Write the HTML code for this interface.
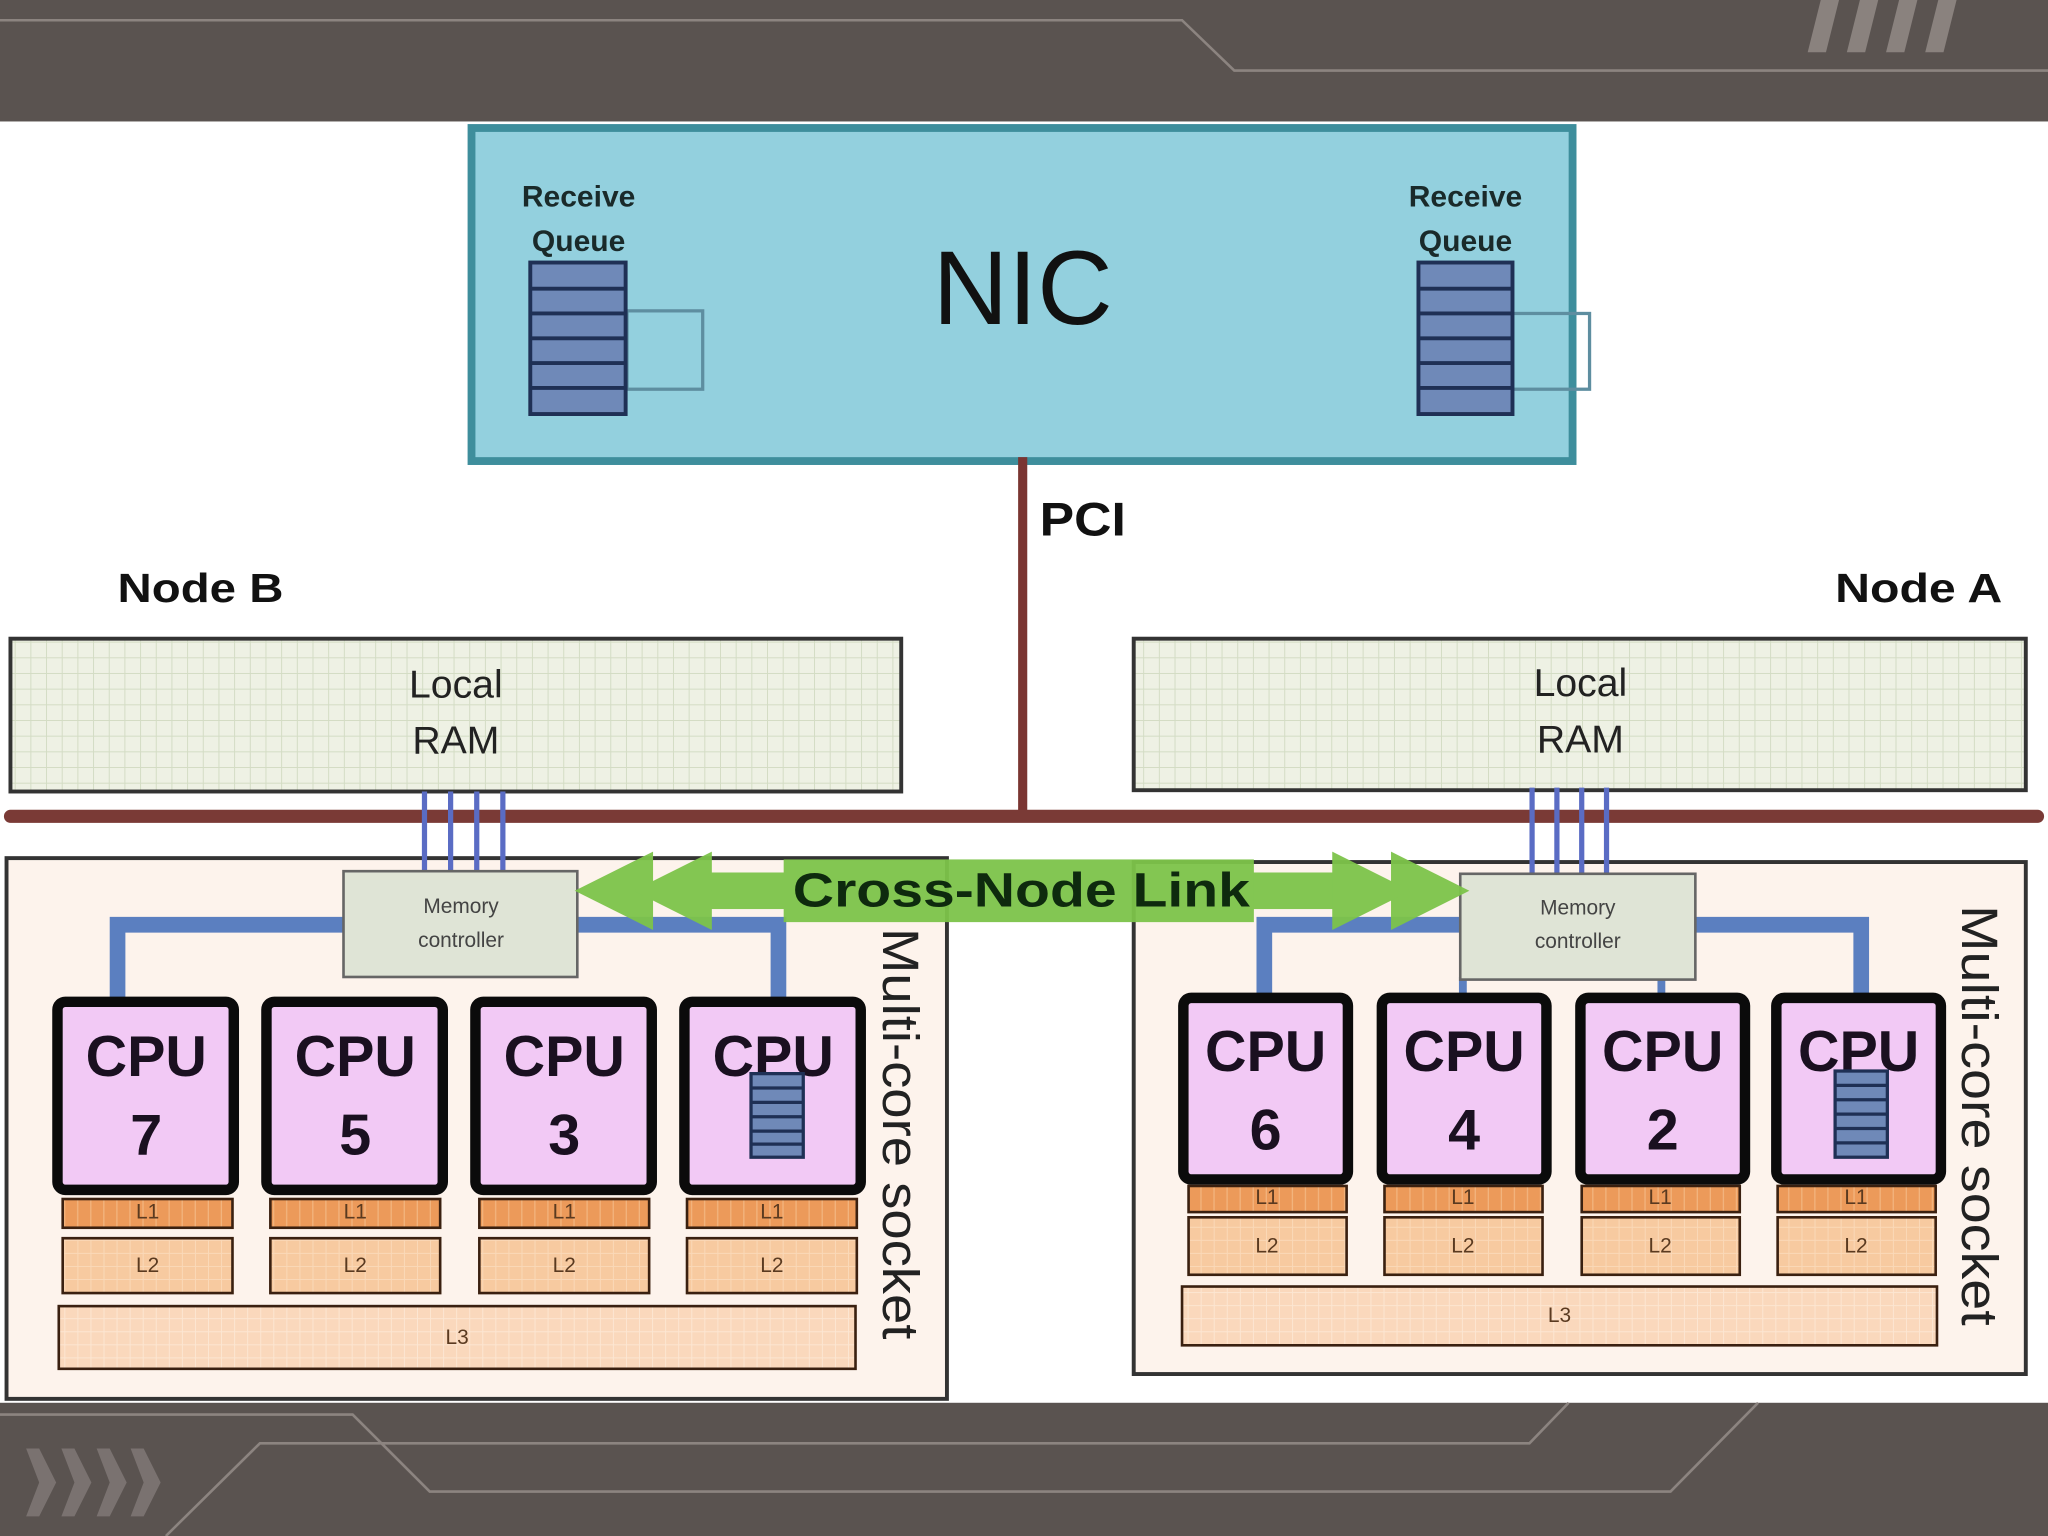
<!DOCTYPE html>
<html><head><meta charset="utf-8"><style>
html,body{margin:0;padding:0;background:#fff;}
svg{display:block;}
text{font-family:"Liberation Sans",sans-serif;}
</style></head><body>
<svg width="2048" height="1536" viewBox="0 0 1568 1176" xmlns="http://www.w3.org/2000/svg">
<defs>
<pattern id="grid" width="12" height="12" patternUnits="userSpaceOnUse"><rect width="12" height="12" fill="#eef1e4"/><path d="M12 0V12M0 12H12" stroke="#d3dcc4" stroke-width="1.5"/></pattern>
<pattern id="g1" width="10" height="10" patternUnits="userSpaceOnUse"><rect width="10" height="10" fill="#ec9a5a"/><path d="M10 0V10" stroke="#f2b47e" stroke-width="2"/></pattern>
<pattern id="g2" width="10" height="10" patternUnits="userSpaceOnUse"><rect width="10" height="10" fill="#f7caa0"/><path d="M10 0V10M0 10H10" stroke="#fad9b8" stroke-width="1.5"/></pattern>
<pattern id="g3" width="10" height="10" patternUnits="userSpaceOnUse"><rect width="10" height="10" fill="#fad8bc"/><path d="M10 0V10M0 10H10" stroke="#fce6d2" stroke-width="1.5"/></pattern>
</defs>
<rect width="1568" height="1176" fill="#fff"/>
<rect x="0" y="0" width="1568" height="93" fill="#5a5350"/>
<path d="M0 15.5H905L945 54H1568" fill="none" stroke="#8c8480" stroke-width="2"/>
<g fill="#8a827e"><path d="M1394 0h14l-10 40h-14z"/><path d="M1424 0h14l-10 40h-14z"/><path d="M1454 0h14l-10 40h-14z"/><path d="M1484 0h14l-10 40h-14z"/></g>
<rect x="0" y="1074" width="1568" height="102" fill="#5a5350"/>
<path d="M0 1083H270L329 1142H1279L1346 1074" fill="none" stroke="#8c8480" stroke-width="2"/>
<path d="M127 1176L199 1105H1171L1201 1074" fill="none" stroke="#8c8480" stroke-width="2"/>
<g fill="#7a7270"><path d="M20 1109h10l13 26l-13 26h-10l10-26z"/><path d="M47 1109h10l13 26l-13 26h-10l10-26z"/><path d="M74 1109h10l13 26l-13 26h-10l10-26z"/><path d="M100 1109h10l13 26l-13 26h-10l10-26z"/></g>

<rect x="361" y="98" width="843" height="255" fill="#93d0de" stroke="#3e8e9c" stroke-width="6"/>
<text x="783" y="248" font-size="80" text-anchor="middle" fill="#111">NIC</text>
<g font-size="23" font-weight="bold" fill="#1a2a2a" text-anchor="middle">
<text x="443" y="158">Receive</text><text x="443" y="192">Queue</text>
<text x="1122" y="158">Receive</text><text x="1122" y="192">Queue</text></g>
<rect x="480" y="238" width="58" height="60" fill="none" stroke="#5e8ea0" stroke-width="2.5"/>
<rect x="1158" y="240" width="59" height="58" fill="none" stroke="#5e8ea0" stroke-width="2.5"/>
<g stroke="#1f3055" stroke-width="3" fill="#6f89b8">
<rect x="406" y="201" width="73" height="116"/>
<path d="M406 221H479M406 240H479M406 259H479M406 278H479M406 297H479"/>
<rect x="1086" y="201" width="72" height="116"/>
<path d="M1086 221H1158M1086 240H1158M1086 259H1158M1086 278H1158M1086 297H1158"/>
</g>
<line x1="783" y1="350" x2="783" y2="625" stroke="#7a3532" stroke-width="7"/>
<text x="796" y="410" font-size="36" font-weight="bold" fill="#111" textLength="66" lengthAdjust="spacingAndGlyphs">PCI</text>
<text x="90" y="461" font-size="31" font-weight="bold" fill="#111" textLength="127" lengthAdjust="spacingAndGlyphs">Node B</text>
<text x="1405" y="461" font-size="31" font-weight="bold" fill="#111" textLength="128" lengthAdjust="spacingAndGlyphs">Node A</text>
<rect x="8" y="489" width="682" height="117" fill="url(#grid)" stroke="#333" stroke-width="3"/>
<rect x="868" y="489" width="683" height="116" fill="url(#grid)" stroke="#333" stroke-width="3"/>
<g font-size="30" fill="#222" text-anchor="middle">
<text x="349" y="534">Local</text><text x="349" y="577">RAM</text>
<text x="1210" y="533">Local</text><text x="1210" y="576">RAM</text></g>
<line x1="8" y1="625" x2="1560" y2="625" stroke="#7a3a36" stroke-width="10" stroke-linecap="round"/>
<rect x="5" y="657" width="720" height="414" fill="#fdf3ec" stroke="#333" stroke-width="3"/>
<rect x="868" y="660" width="683" height="392" fill="#fdf3ec" stroke="#333" stroke-width="3"/>
<g stroke="#5a6cc4" stroke-width="4"><path d="M325 606V667M345 606V667M365 606V667M385 606V667"/><path d="M1173 603V669M1192 603V669M1211 603V669M1230 603V669"/></g>
<path d="M90 768V708H596V768" fill="none" stroke="#5b7fc0" stroke-width="12"/>
<path d="M968 768V708H1425V768" fill="none" stroke="#5b7fc0" stroke-width="12"/>
<path d="M1120 748V768M1272 748V768" stroke="#5b7fc0" stroke-width="6"/>
<rect x="263" y="667" width="179" height="81" fill="#dfe4d6" stroke="#666" stroke-width="2"/>
<rect x="1118" y="669" width="180" height="81" fill="#dfe4d6" stroke="#666" stroke-width="2"/>
<g font-size="16" fill="#444" text-anchor="middle">
<text x="353" y="699">Memory</text><text x="353" y="725">controller</text>
<text x="1208" y="700">Memory</text><text x="1208" y="726">controller</text></g>
<g fill="#7dc44a" opacity="0.95">
<rect x="530" y="668" width="520" height="28"/>
<rect x="600" y="658" width="360" height="48"/>
<path d="M440 682L500 652V712Z"/><path d="M485 682L545 652V712Z"/>
<path d="M1125 682L1065 652V712Z"/><path d="M1080 682L1020 652V712Z"/>
</g>
<text x="607" y="694" font-size="37" font-weight="bold" fill="#0e2a0e" textLength="350" lengthAdjust="spacingAndGlyphs">Cross-Node Link</text>
<g fill="#f2c9f5" stroke="#0b0b0b" stroke-width="8">
<rect x="44" y="767" width="135" height="144" rx="6"/><rect x="204" y="767" width="135" height="144" rx="6"/>
<rect x="364" y="767" width="135" height="144" rx="6"/><rect x="524" y="767" width="135" height="144" rx="6"/>
<rect x="906" y="764" width="126" height="139" rx="6"/><rect x="1058" y="764" width="126" height="139" rx="6"/>
<rect x="1210" y="764" width="126" height="139" rx="6"/><rect x="1360" y="764" width="126" height="139" rx="6"/>
</g>
<g font-size="44" font-weight="bold" fill="#1a1020" text-anchor="middle">
<text x="112" y="824">CPU</text><text x="112" y="884">7</text>
<text x="272" y="824">CPU</text><text x="272" y="884">5</text>
<text x="432" y="824">CPU</text><text x="432" y="884">3</text>
<text x="592" y="824">CPU</text>
<text x="969" y="820">CPU</text><text x="969" y="880">6</text>
<text x="1121" y="820">CPU</text><text x="1121" y="880">4</text>
<text x="1273" y="820">CPU</text><text x="1273" y="880">2</text>
<text x="1423" y="820">CPU</text></g>
<g stroke="#1f3055" stroke-width="2.5" fill="#6f89b8">
<rect x="575" y="822" width="40" height="64"/><path d="M575 833H615M575 844H615M575 855H615M575 866H615M575 876H615"/>
<rect x="1405" y="820" width="40" height="66"/><path d="M1405 831H1445M1405 842H1445M1405 853H1445M1405 864H1445M1405 875H1445"/>
</g>
<g stroke="#3a2010" stroke-width="2">
<rect x="48" y="918" width="130" height="22" fill="url(#g1)"/><rect x="207" y="918" width="130" height="22" fill="url(#g1)"/>
<rect x="367" y="918" width="130" height="22" fill="url(#g1)"/><rect x="526" y="918" width="130" height="22" fill="url(#g1)"/>
<rect x="48" y="948" width="130" height="42" fill="url(#g2)"/><rect x="207" y="948" width="130" height="42" fill="url(#g2)"/>
<rect x="367" y="948" width="130" height="42" fill="url(#g2)"/><rect x="526" y="948" width="130" height="42" fill="url(#g2)"/>
<rect x="45" y="1000" width="610" height="48" fill="url(#g3)"/>
<rect x="910" y="908" width="121" height="20" fill="url(#g1)"/><rect x="1060" y="908" width="121" height="20" fill="url(#g1)"/>
<rect x="1211" y="908" width="121" height="20" fill="url(#g1)"/><rect x="1361" y="908" width="121" height="20" fill="url(#g1)"/>
<rect x="910" y="932" width="121" height="44" fill="url(#g2)"/><rect x="1060" y="932" width="121" height="44" fill="url(#g2)"/>
<rect x="1211" y="932" width="121" height="44" fill="url(#g2)"/><rect x="1361" y="932" width="121" height="44" fill="url(#g2)"/>
<rect x="905" y="985" width="578" height="45" fill="url(#g3)"/>
</g>
<g font-size="16" fill="#5a3a20" text-anchor="middle">
<text x="113" y="933">L1</text><text x="272" y="933">L1</text><text x="432" y="933">L1</text><text x="591" y="933">L1</text>
<text x="113" y="974">L2</text><text x="272" y="974">L2</text><text x="432" y="974">L2</text><text x="591" y="974">L2</text>
<text x="350" y="1029">L3</text>
<text x="970" y="922">L1</text><text x="1120" y="922">L1</text><text x="1271" y="922">L1</text><text x="1421" y="922">L1</text>
<text x="970" y="959">L2</text><text x="1120" y="959">L2</text><text x="1271" y="959">L2</text><text x="1421" y="959">L2</text>
<text x="1194" y="1012">L3</text></g>
<text transform="translate(676,868) rotate(90)" font-size="39" fill="#222" text-anchor="middle" textLength="315" lengthAdjust="spacingAndGlyphs">Multi-core socket</text>
<text transform="translate(1502,854) rotate(90)" font-size="39" fill="#222" text-anchor="middle" textLength="322" lengthAdjust="spacingAndGlyphs">Multi-core socket</text>
</svg>
</body></html>
